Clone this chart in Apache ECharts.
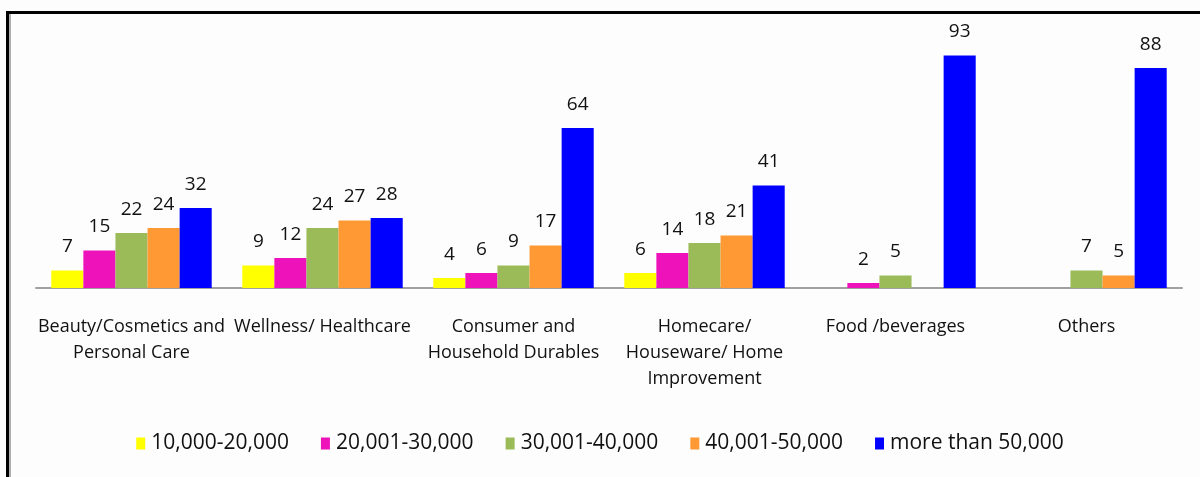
<!DOCTYPE html>
<html>
<head>
<meta charset="utf-8">
<script src="https://cdn.jsdelivr.net/npm/echarts@6/dist/echarts.min.js"></script>
<style>
html,body{margin:0;padding:0;background:#fdfdfd;}
#chart{width:1200px;height:477px;}
</style>
</head>
<body>
<div id="chart"></div>
<script>
var categories = [
  "Beauty/Cosmetics and\nPersonal Care",
  "Wellness/ Healthcare",
  "Consumer and\nHousehold Durables",
  "Homecare/\nHouseware/ Home\nImprovement",
  "Food /beverages",
  "Others"
];
var seriesNames = ["10,000-20,000", "20,001-30,000", "30,001-40,000", "40,001-50,000", "more than 50,000"];
var s1 = [7, 9, 4, 6, null, null];
var s2 = [15, 12, 6, 14, 2, null];
var s3 = [22, 24, 9, 18, 5, 7];
var s4 = [24, 27, 17, 21, null, 5];
var s5 = [32, 28, 64, 41, 93, 88];
var seriesData = [s1, s2, s3, s4, s5];
var colors = ["#FFFF00", "#EE12BB", "#9BBB59", "#FF9933", "#0000FF"];

var FONT = "'Open Sans', sans-serif";
var chart = echarts.init(document.getElementById('chart'), null, {renderer: 'canvas'});
var series = seriesData.map(function (d, i) {
  return {
    name: seriesNames[i],
    type: 'bar',
    data: d,
    barGap: '0%',
    barCategoryGap: '16%',
    itemStyle: {color: colors[i]},
    label: {
      show: true,
      position: 'top',
      distance: 14,
      color: '#111',
      fontFamily: FONT,
      fontSize: 19
    }
  };
});
chart.setOption({
  backgroundColor: '#fdfdfd',
  animation: false,
  color: colors,
  grid: {left: 36, right: 18, top: 38, bottom: 189},
  legend: {
    left: 'center',
    top: 428,
    itemWidth: 9,
    itemHeight: 12,
    itemGap: 32,
    icon: 'rect',
    textStyle: {fontFamily: FONT, fontSize: 21, color: '#111', padding: [0, 0, 0, 1]},
    data: seriesNames
  },
  xAxis: {
    type: 'category',
    data: categories,
    axisLine: {lineStyle: {color: '#a0a0a0', width: 2}},
    axisTick: {show: false},
    axisLabel: {
      interval: 0,
      margin: 26,
      lineHeight: 26,
      fontFamily: FONT,
      fontSize: 18,
      color: '#111'
    }
  },
  yAxis: {
    type: 'value',
    min: 0,
    max: 100,
    show: false,
    splitLine: {show: false}
  },
  graphic: [
    {type: 'rect', shape: {x: 6, y: 11, width: 1194, height: 3}, style: {fill: '#000'}, silent: true},
    {type: 'rect', shape: {x: 6, y: 11, width: 3, height: 466}, style: {fill: '#000'}, silent: true},
    {type: 'rect', shape: {x: 9, y: 14, width: 2, height: 463}, style: {fill: '#b0b0b0'}, silent: true}
  ],
  series: series
});
</script>
</body>
</html>
